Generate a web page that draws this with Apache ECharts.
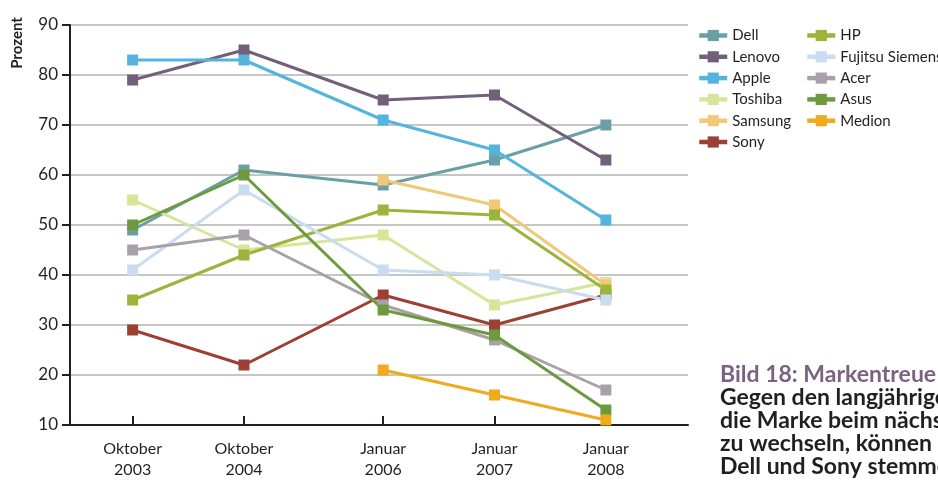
<!DOCTYPE html>
<html>
<head>
<meta charset="utf-8">
<script src="https://cdn.jsdelivr.net/npm/echarts@6/dist/echarts.min.js"></script>
<style>
html,body{margin:0;padding:0;background:#fff;}
#c{width:938px;height:480px;}
</style>
</head>
<body>
<div id="c"></div>
<script>
// ---- data ----
const periods = [[2003, 10], [2004, 10], [2006, 1], [2007, 1], [2008, 1]];
const periodLabels = ['Oktober\n2003', 'Oktober\n2004', 'Januar\n2006', 'Januar\n2007', 'Januar\n2008'];
const yTicks = [10, 20, 30, 40, 50, 60, 70, 80, 90];

const dell    = [49, 61, 58, 63, 70];
const lenovo  = [79, 85, 75, 76, 63];
const apple   = [83, 83, 71, 65, 51];
const toshiba = [55, 45, 48, 34, 38.5];
const samsung = [null, null, 59, 54, 38];
const sony    = [29, 22, 36, 30, 36];
const hp      = [35, 44, 53, 52, 37];
const fujitsu = [41, 57, 41, 40, 35];
const acer    = [45, 48, 34, 27, 17];
const asus    = [50, 60, 33, 28, 13];
const medion  = [null, null, 21, 16, 11];

const seriesNames = ['Dell', 'Lenovo', 'Apple', 'Toshiba', 'Samsung', 'Sony', 'HP', 'Fujitsu Siemens', 'Acer', 'Asus', 'Medion'];
const seriesValues = [dell, lenovo, apple, toshiba, samsung, sony, hp, fujitsu, acer, asus, medion];
const seriesColors = ['#6a9fa5', '#72607a', '#55b4de', '#d6e597', '#f0c978', '#9c4033', '#9cb43a', '#c9dcf0', '#a9a1aa', '#6e9a3e', '#f0aa1e'];

const captionTitle = 'Bild 18: Markentreue der Notebook-Käufer';
const captionLines = ['Gegen den langjährigen Trend', 'die Marke beim nächsten Kauf', 'zu wechseln, können sich', 'Dell und Sony stemmen'];

// ---- build ----
const months = periods.map(p => (p[0] - 2003) * 12 + (p[1] - 10));
const labelByMonth = {};
months.forEach((m, i) => { labelByMonth[m] = periodLabels[i]; });

const font = "Lato, 'DejaVu Sans Condensed', sans-serif";

const series = seriesNames.map((name, si) => ({
  name: name,
  type: 'line',
  data: seriesValues[si].map((v, i) => [months[i], v]).filter(d => d[1] !== null),
  symbol: 'rect',
  symbolSize: 11,
  showSymbol: true,
  lineStyle: { width: 3, color: seriesColors[si] },
  itemStyle: { color: seriesColors[si] },
  emphasis: { disabled: true },
  z: 2
}));

const legendCommon = {
  orient: 'vertical',
  top: 27,
  padding: 0,
  itemWidth: 28,
  itemHeight: 14,
  itemGap: 4.3,
  lineStyle: { width: 4.5 },
  textStyle: { fontFamily: font, fontSize: 15, color: '#231f20', lineHeight: 17 },
  selectedMode: false
};

const chart = echarts.init(document.getElementById('c'), null, { renderer: 'canvas' });
chart.setOption({
  animation: false,
  backgroundColor: '#ffffff',
  color: seriesColors,
  grid: { left: 70, right: 250, top: 25, bottom: 52, containLabel: false },
  legend: [
    Object.assign({ left: 697, data: seriesNames.slice(0, 6) }, legendCommon),
    Object.assign({ left: 805, data: seriesNames.slice(6) }, legendCommon)
  ],
  xAxis: {
    type: 'value',
    min: -6.75,
    max: 59.85,
    axisLine: { show: true, onZero: false, lineStyle: { color: '#231f20', width: 2 } },
    axisTick: { show: true, inside: true, length: 9, customValues: months, lineStyle: { color: '#231f20', width: 2 } },
    axisLabel: {
      customValues: months,
      formatter: v => labelByMonth[v] || '',
      fontFamily: font, fontSize: 16, lineHeight: 21, color: '#231f20', margin: 13
    },
    splitLine: { show: false }
  },
  yAxis: {
    type: 'value',
    min: yTicks[0],
    max: yTicks[yTicks.length - 1],
    interval: 10,
    axisLine: { show: true, onZero: false, lineStyle: { color: '#231f20', width: 2 } },
    axisTick: { show: true, inside: false, length: 8, lineStyle: { color: '#231f20', width: 2 } },
    axisLabel: { fontFamily: font, fontSize: 17, color: '#231f20', margin: 12 },
    splitLine: { show: true, lineStyle: { color: '#c6c6c6', width: 2 } }
  },
  graphic: [
    {
      type: 'text', x: 17, y: 43, rotation: Math.PI / 2,
      style: { text: 'Prozent', font: "bold 15px Lato, sans-serif", fill: '#231f20', align: 'center', verticalAlign: 'middle' }
    },
    {
      type: 'text', x: 720, y: 375,
      style: { text: captionTitle, font: "bold 23px Lato, sans-serif", fill: '#7c6183', align: 'left', verticalAlign: 'middle' }
    }
  ].concat(captionLines.map((t, i) => ({
    type: 'text', x: 720, y: 398 + i * 23,
    style: { text: t, font: "bold 23px Lato, sans-serif", fill: '#231f20', align: 'left', verticalAlign: 'middle' }
  }))),
  series: series
});
</script>
</body>
</html>
